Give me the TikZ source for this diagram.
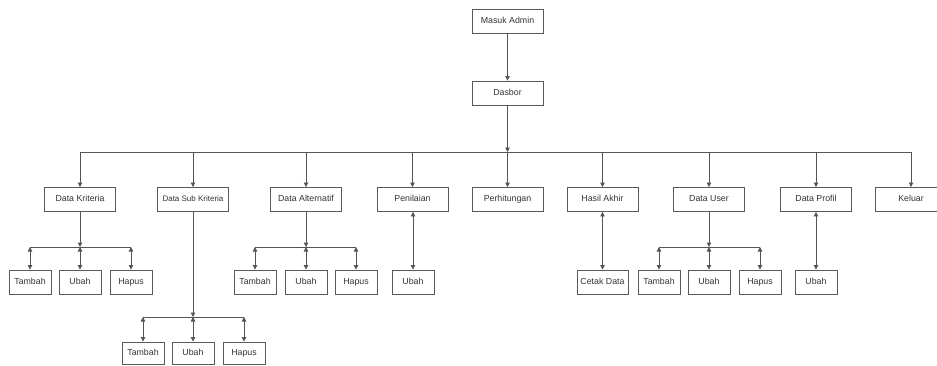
\documentclass[tikz,border=0pt]{standalone}
\usepackage{fontspec}
\setmainfont{Liberation Sans}
\usetikzlibrary{arrows.meta}
\definecolor{boxc}{HTML}{5A5A5A}
\definecolor{linec}{HTML}{555555}
\definecolor{txt}{HTML}{333333}
\tikzset{
  box/.style={draw=boxc, line width=0.9pt, minimum width=71pt, minimum height=24pt, inner sep=0pt, text height=6.4pt, text depth=1.9pt, font=\fontsize{8.8}{10}\selectfont, text=txt},
  leaf/.style={box, minimum width=42pt},
  conn/.style={draw=linec, line width=0.8pt},
  arr/.style={conn, -{Triangle[length=4.5pt,width=4.5pt]}},
  darr/.style={conn, {Triangle[length=4.5pt,width=4.5pt]}-{Triangle[length=4.5pt,width=4.5pt]}},
}
\begin{document}
\begin{tikzpicture}[x=1pt,y=-1pt]
\useasboundingbox (0,0) rectangle (937,365);
\clip (0,0) rectangle (937,365);
% top
\node[box] (masuk) at (507.5,21) {Masuk Admin};
\node[box] (dasbor) at (507.5,93) {Dasbor};
% second row
\node[box] (krit) at (80,199.5) {Data Kriteria};
\node[box, font=\fontsize{8}{10}\selectfont] (sub) at (193,199.5) {Data Sub Kriteria};
\node[box] (alt) at (306,199.5) {Data Alternatif};
\node[box] (nilai) at (412.5,199.5) {Penilaian};
\node[box] (hitung) at (507.5,199.5) {Perhitungan};
\node[box] (hasil) at (602.5,199.5) {Hasil Akhir};
\node[box] (user) at (709,199.5) {Data User};
\node[box] (profil) at (816,199.5) {Data Profil};
\node[box] (keluar) at (911,199.5) {Keluar};
% leaves
\node[leaf] (kt) at (30,282) {Tambah};
\node[leaf] (ku) at (80,282) {Ubah};
\node[leaf] (kh) at (131,282) {Hapus};
\node[leaf, minimum height=22pt] (st) at (143,353) {Tambah};
\node[leaf, minimum height=22pt] (su) at (193,353) {Ubah};
\node[leaf, minimum height=22pt] (sh) at (244,353) {Hapus};
\node[leaf] (at) at (255,282) {Tambah};
\node[leaf] (au) at (306,282) {Ubah};
\node[leaf] (ah) at (356,282) {Hapus};
\node[leaf] (nu) at (413,282) {Ubah};
\node[leaf, minimum width=51pt] (cetak) at (602.5,282) {Cetak Data};
\node[leaf] (ut) at (659,282) {Tambah};
\node[leaf] (uu) at (709,282) {Ubah};
\node[leaf] (uh) at (760,282) {Hapus};
\node[leaf] (pu) at (816,282) {Ubah};
% main bus
\coordinate (bus) at (507.5,152);
\draw[arr] (masuk) -- (dasbor);
\draw[arr] (dasbor) -- (bus);
\draw[conn] (krit.north |- bus) -- (keluar.north |- bus);
\foreach \n in {krit,sub,alt,nilai,hitung,hasil,user,profil,keluar}
  \draw[arr] (\n.north |- bus) -- (\n.north);
% Data Kriteria
\coordinate (kb) at (80,247);
\draw[arr] (krit) -- (kb);
\draw[conn] (kt.north |- kb) -- (kh.north |- kb);
\foreach \n in {kt,ku,kh} \draw[darr] (\n.north |- kb) -- (\n.north);
% Data Sub Kriteria
\coordinate (sb) at (193,317);
\draw[arr] (sub) -- (sb);
\draw[conn] (st.north |- sb) -- (sh.north |- sb);
\foreach \n in {st,su,sh} \draw[darr] (\n.north |- sb) -- (\n.north);
% Data Alternatif
\coordinate (ab) at (306,247);
\draw[arr] (alt) -- (ab);
\draw[conn] (at.north |- ab) -- (ah.north |- ab);
\foreach \n in {at,au,ah} \draw[darr] (\n.north |- ab) -- (\n.north);
% Data User
\coordinate (ub) at (709,247);
\draw[arr] (user) -- (ub);
\draw[conn] (ut.north |- ub) -- (uh.north |- ub);
\foreach \n in {ut,uu,uh} \draw[darr] (\n.north |- ub) -- (\n.north);
% singles
\draw[darr] (nilai.south -| nu) -- (nu.north);
\draw[darr] (hasil.south) -- (cetak.north);
\draw[darr] (profil.south) -- (pu.north);
\end{tikzpicture}
\end{document}
